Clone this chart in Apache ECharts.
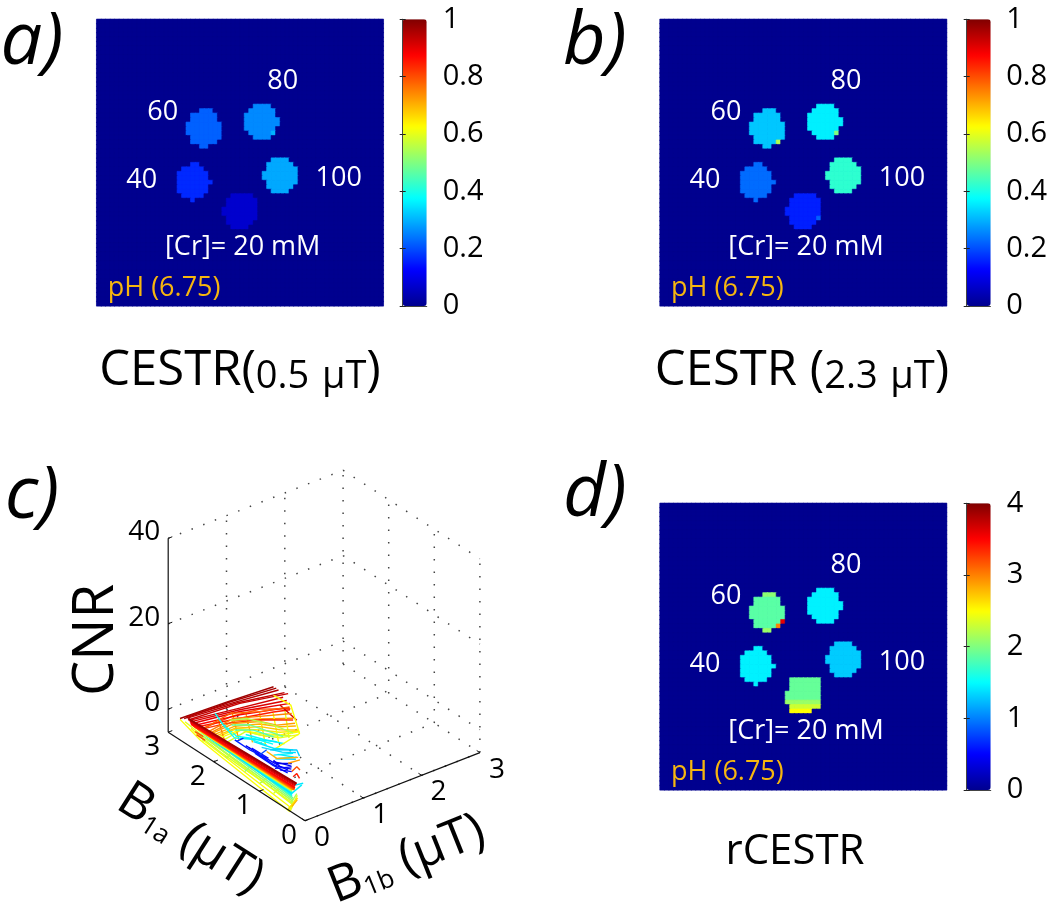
<!DOCTYPE html>
<html>
<head>
<meta charset="utf-8">
<title>CESTR maps</title>
<script src="https://cdn.jsdelivr.net/npm/echarts@6/dist/echarts.min.js"></script>
<style>
  html, body { margin: 0; padding: 0; background: #fff; }
  #main { width: 1050px; height: 903px; }
</style>
</head>
<body>
<div id="main"></div>
<script>
// jet colormap, one stop every 1/8
var jetColors = ['#00008f', '#0000ff', '#0080ff', '#00ffff', '#80ff80', '#ffff00', '#ff8000', '#ff0000', '#800000'];

// vials as pixel runs [row, firstCol, lastCol] on the 64x64 image
var vial40Rows = [[32,21,22],[33,19,23],[34,18,24],[35,18,24],[36,18,25],[37,18,24],[38,18,24],[39,19,23],[40,21,21]];
var vial60Rows = [[20,23,25],[21,21,26],[22,21,26],[23,20,27],[24,20,27],[25,20,27],[26,21,27],[27,21,26],[28,23,24]];
var vial80Rows = [[19,35,38],[20,34,39],[21,33,39],[22,33,40],[23,33,40],[24,33,39],[25,34,39],[26,35,38]];
var vial100Rows = [[31,39,42],[32,38,43],[33,38,44],[34,37,44],[35,37,44],[36,38,44],[37,38,43],[38,39,42]];
var vial0Rows = [[39,30,34],[40,29,35],[41,29,35],[42,28,35],[43,28,35],[44,29,35],[45,29,34],[46,30,33]];
var vial0RowsD = [[39,29,35],[40,29,35],[41,29,35],[42,28,35],[43,28,35],[44,28,35],[45,29,35],[46,29,33]];

// vial levels, order 40, 60, 80, 100, bottom
var cestrLow = [0.165, 0.22, 0.26, 0.29, 0.07];
var cestrHigh = [0.23, 0.32, 0.36, 0.42, 0.155];
var rcestr = [1.45, 1.85, 1.45, 1.3, 1.9];
// odd single pixels [row, col, value]
var cestrLowOdd = [[25, 39, 0.3]];
var cestrHighOdd = [[27, 26, 0.55], [25, 39, 0.5], [44, 35, 0.22]];
var rcestrOdd = [[26, 27, 3.6], [27, 26, 3.0], [28, 23, 2.1], [28, 24, 2.1], [20, 23, 2.05], [20, 24, 2.05], [20, 25, 2.05]];
// the bottom vial in d) turns yellow towards its last rows
var rcestrBottomRows = [[44, 2.1], [45, 2.3], [46, 2.5]];

var concentrationLabels = ['40', '60', '80', '100'];
var cnrTicks = [0, 20, 40];
var b1Ticks = [0, 1, 2, 3];

// 3D plot c), every curve sits at B1b = 0 as pairs [B1a, CNR]
var meshB1b = 0;
var meshLevels = [
  .96, .94, .91,
  .8, .74, .7, .65, .6, .58,
  .75, .72, .7, .65, .62, .6,
  .37, .34, .38, .33, .36,
  .12, .1, .15, .11,
  .62, .6, .64, .62, .58, .55, .5,
  .97, .95, .93, .92, .9, .88, .85, .82, .92, .78, .75, .72, .68, .62, .62,
  .55, .48, .45, .38, .36, .35, .33, .36, .34,
  .15, .13, .14, .17, .12, .10, .13, .12, .2,
  .7, .72, .8, .85, .35,
  .6, .55, .48, .42, .38, .36, .35,
  .58, .56, .52, .55, .58, .8, .8,
  .6, .65, .7, .55, .36,
  .38, .35, .45, .5, .55, .62, .66, .72, .75, .78, .8, .83, .85, .87, .9, .92, .94, .96, .97
];
var meshCurves = [
  [[2.65,.2],[1.65,11],[.63,21.3]],
  [[2.58,.8],[1.5,11.8],[.45,21.5]],
  [[2.47,.8],[1.43,10.7],[.4,20]],
  [[2.3,.1],[1.6,8],[.99,13.9],[.32,18.6]],
  [[2.15,-.1],[1.57,7.1],[.99,11.6],[.26,16.8]],
  [[2.1,-.2],[1.55,6],[.99,10.4],[.55,12.8],[.2,15.4]],
  [[2.02,-.3],[1.5,5.8],[.99,9],[.55,11.5],[.13,14.7]],
  [[1.85,.3],[1.4,6.2],[.99,7.8],[.55,10.2],[.14,13.8]],
  [[1.75,.6],[1.3,6.5],[.85,8.5],[.3,12.5]],
  [[1.9,5],[1.75,.8]],
  [[1.6,9],[1.45,3.5]],
  [[1.3,11],[1.15,5]],
  [[1,13],[.87,6.5]],
  [[.7,15],[.58,9]],
  [[.45,18],[.35,11.5]],
  [[1.3,5.8],[.9,7.4],[.45,9.5]],
  [[.95,5.2],[.5,7.2],[.2,9.2]],
  [[1.85,5],[1.5,4],[1.1,6.2],[.7,7.7]],
  [[.65,4.6],[.2,7.6]],
  [[.6,6],[.25,7.8]],
  [[1.3,3.2],[.95,3.3],[.6,3.5]],
  [[.65,3],[.3,4.6]],
  [[1.1,2.8],[.7,2.7],[.38,3.2]],
  [[.7,3.6],[.5,4.5],[.3,5.3]],
  [[2.74,-.6],[2.3,-2.4],[.33,-5.6]],
  [[.34,-5.3],[.2,-2]],
  [[.36,-5],[.16,-1.2]],
  [[2.5,-1],[2.2,-2],[.3,-4.5]],
  [[2.33,-1.5],[1.8,-2.2],[.26,-3.1]],
  [[2.38,-1],[1.72,-1.5],[.26,-2.7]],
  [[2.2,-1],[1.68,-.9],[.26,-2.3]],
  [[2.74,-.4],[1.72,10.5],[.69,21.2]],
  [[2.6,1],[1.57,11.4],[.58,21.2]],
  [[2.56,.5],[1.43,12.2],[.37,21.8]],
  [[2.49,1],[1.43,11.1],[.48,20.2]],
  [[2.45,.5],[1.43,10.3],[.33,19.8]],
  [[2.41,.3],[1.43,9.5],[.34,18.8]],
  [[2.38,.1],[1.43,8.7],[.69,15.3],[.33,18.3]],
  [[2.34,-.3],[1.72,5.5],[.99,11.4],[.26,16.4]],
  [[.55,17.9],[.18,16.9]],
  [[2.27,.2],[1.64,8.4],[.99,13.3],[.34,18.9]],
  [[2.19,-.1],[1.57,7.7],[.99,12.2],[.29,17.7]],
  [[2.12,0],[1.57,6.5],[.99,11],[.62,12.7],[.22,15.9]],
  [[2.08,-.5],[1.54,5.6],[.99,9.8],[.55,12.1],[.15,14.8]],
  [[1.97,-.1],[1.43,6],[.99,8.2],[.55,10.9],[.12,14.6]],
  [[.69,19.2],[.31,19.5],[.12,14.2],[.69,6.4]],
  [[1.64,6.8],[1.28,9.7],[.69,12.2],[.26,13.3]],
  [[1.61,5.9],[1.21,8.7],[.77,10.1],[.48,11]],
  [[1.54,5.2],[1.13,8],[.69,9.5]],
  [[1.97,6.1],[1.79,4.6],[1.54,3.3],[1.24,5.3],[.84,6.5]],
  [[1.43,4],[.99,6.7],[.62,8.8]],
  [[1.13,5.3],[.69,6.8],[.26,9.4]],
  [[.77,5.9],[.18,9.9],[.12,8.9]],
  [[.69,5.2],[.26,8.6]],
  [[.58,5.2],[.18,8.2]],
  [[1.54,2.9],[1.21,2.8],[.84,3.4]],
  [[1.17,3.5],[.8,3.7]],
  [[1.06,3],[.62,3]],
  [[1.5,2.8],[1.35,4.6]],
  [[.69,4],[.55,3.5],[.37,3.9]],
  [[.62,3.7],[.29,6]],
  [[.66,2.3],[.29,5.2]],
  [[.55,2.7],[.29,4.1]],
  [[.99,3.2],[.84,5.4]],
  [[.84,5],[.62,4.9],[.15,8.4]],
  [[.37,5.5],[.11,8.1]],
  [[.29,4.1],[.18,6],[.11,5.7]],
  [[.26,3.1],[.18,4.4],[.12,3.7]],
  [[.22,1.4],[.04,3.1]],
  [[2.63,-.4],[2.27,-1],[.26,-3.5]],
  [[2.38,-1],[1.72,-1.5],[.26,-2.7]],
  [[2.27,-.6],[1.64,-.2],[.26,-1.9]],
  [[2.1,-.6],[1.5,-.4],[.28,-1.6]],
  [[2.16,-.2],[1.57,.3],[.29,-1.4]],
  [[2.05,-.2],[1.4,.1],[.28,-1.15]],
  [[2.08,-.1],[1.43,.5],[.29,-.9]],
  [[2.23,-2.3],[2.27,-1]],
  [[1.72,-2.7],[1.61,-.3]],
  [[1.32,-3],[1.17,-.5]],
  [[.99,-3.5],[.84,-1.3]],
  [[.69,-3.8],[.58,-1.9]],
  [[2.41,-1.2],[2.23,-1.1]],
  [[2.38,-1.7],[2.19,-1.7]],
  [[.33,-5.6],[.17,-.6]],
  [[.37,-5.4],[.18,-1.4]],
  [[.29,-4.1],[.17,-1.7]],
  [[.31,-3.5],[.18,-.3]],
  [[.29,-1],[.07,2.5]],
  [[2.23,-.2],[.77,-.7],[.29,-.8]],
  [[2.19,-.5],[.77,-1.1],[.29,-1]],
  [[2.25,-.3],[.28,-.6]],
  [[2.3,-.2],[.29,-.4]],
  [[2.33,-.4],[.29,-.3]],
  [[2.36,-.3],[.3,-.25]],
  [[2.38,-.2],[.29,-.2]],
  [[2.41,-.2],[.26,0]],
  [[2.43,-.15],[.24,.15]],
  [[2.45,-.1],[.23,.3]],
  [[2.47,-.1],[.23,.45]],
  [[2.49,-.1],[.23,.6]],
  [[2.5,0],[.22,.75]],
  [[2.51,.1],[.22,.9]],
  [[2.52,.4],[.22,1.2]],
  [[2.53,.55],[.21,1.45]],
  [[2.54,.7],[.2,1.7]],
  [[2.55,.8],[.19,1.9]],
  [[2.56,.9],[.18,2.1]]
];

var fontName = '"Open Sans", sans-serif';
var panels = [
  { left: 96.7, top: 19.3, barLeft: 402.7, max: 1, step: 0.2, levels: cestrLow, odd: cestrLowOdd },
  { left: 660, top: 19.3, barLeft: 966.7, max: 1, step: 0.2, levels: cestrHigh, odd: cestrHighOdd },
  { left: 660, top: 503.3, barLeft: 966.7, max: 4, step: 1, levels: rcestr, odd: rcestrOdd, lastVial: vial0RowsD, bottomRows: rcestrBottomRows }
];
var panelSize = 286.6;
var pixelAxis = [];
for (var p = 0; p < 64; p++) pixelAxis.push(p);

function buildImage(panel) {
  var img = [];
  var r, c;
  for (r = 0; r < 64; r++) {
    img.push([]);
    for (c = 0; c < 64; c++) img[r].push(0);
  }
  var vials = [vial40Rows, vial60Rows, vial80Rows, vial100Rows, panel.lastVial || vial0Rows];
  vials.forEach(function (rows, i) {
    rows.forEach(function (run) {
      for (c = run[1]; c <= run[2]; c++) img[run[0]][c] = panel.levels[i];
    });
  });
  (panel.bottomRows || []).forEach(function (row) {
    var run = vials[4].filter(function (v) { return v[0] === row[0]; })[0];
    for (c = run[1]; c <= run[2]; c++) img[row[0]][c] = row[1];
  });
  panel.odd.forEach(function (d) { img[d[0]][d[1]] = d[2]; });
  var out = [];
  for (r = 0; r < 64; r++) {
    for (c = 0; c < 64; c++) {
      var v = img[r][c];
      // same colour on the cell edge, otherwise the cell seams show
      out.push({ value: [c, r, v], itemStyle: { borderWidth: 0.6, borderColor: echarts.color.lerp(v / panel.max, jetColors) } });
    }
  }
  return out;
}

// B1a, B1b, CNR to the coordinates of the hidden grid of plot c)
var cnrFloor = -5.4;
function project(a, b, z) {
  return [155 + 58.3 * b - 45.6 * a, 360.7 - 22.7 * b - 29.5 * a - (z - cnrFloor) * 4.27];
}
function seg3d(p0, p1) {
  return [project(p0[0], p0[1], p0[2]), project(p1[0], p1[1], p1[2])];
}

var grid = [], xAxis = [], yAxis = [], series = [], visualMap = [], graphic = [];

panels.forEach(function (panel, i) {
  grid.push({ left: panel.left, top: panel.top, width: panelSize, height: panelSize, show: true, backgroundColor: jetColors[0], borderWidth: 0 });
  xAxis.push({ type: 'category', gridIndex: grid.length - 1, data: pixelAxis, show: false });
  yAxis.push({ type: 'category', gridIndex: grid.length - 1, data: pixelAxis, show: false, inverse: true });
  series.push({
    type: 'heatmap', xAxisIndex: xAxis.length - 1, yAxisIndex: yAxis.length - 1,
    data: buildImage(panel), silent: true, progressive: 0, animation: false
  });
  visualMap.push({
    type: 'continuous', seriesIndex: i, dimension: 2, min: 0, max: panel.max,
    left: panel.barLeft, top: panel.top, itemWidth: 24, itemHeight: panelSize, padding: 0,
    calculable: false, showLabel: false, hoverLink: false, inRange: { color: jetColors }
  });
});

// colorbar ticks and labels
panels.forEach(function (panel) {
  grid.push({ left: panel.barLeft, top: panel.top, width: 24, height: panelSize, z: 10 });
  var g = grid.length - 1;
  var line = { show: true, lineStyle: { color: '#444', width: 1 } };
  xAxis.push({ type: 'value', gridIndex: g, min: 0, max: 1, position: 'bottom', z: 10, axisLine: line, axisTick: { show: false }, axisLabel: { show: false }, splitLine: { show: false } });
  xAxis.push({ type: 'value', gridIndex: g, min: 0, max: 1, position: 'top', z: 10, axisLine: line, axisTick: { show: false }, axisLabel: { show: false }, splitLine: { show: false } });
  yAxis.push({
    type: 'value', gridIndex: g, min: 0, max: panel.max, interval: panel.step, position: 'right', z: 10,
    axisLine: line, axisTick: { show: true, inside: true, length: 3, lineStyle: { color: '#222' } },
    axisLabel: { fontFamily: fontName, fontSize: 29, color: '#000', margin: 16 }, splitLine: { show: false }
  });
  yAxis.push({
    type: 'value', gridIndex: g, min: 0, max: panel.max, interval: panel.step, position: 'left', z: 10,
    axisLine: line, axisTick: { show: true, inside: true, length: 3, lineStyle: { color: '#222' } },
    axisLabel: { show: false }, splitLine: { show: false }
  });
});

// plot c)
grid.push({ left: 150, top: 460, width: 360, height: 400 });
var meshGrid = grid.length - 1;
xAxis.push({ type: 'value', gridIndex: meshGrid, min: 0, max: 360, show: false });
yAxis.push({ type: 'value', gridIndex: meshGrid, min: 0, max: 400, show: false, inverse: true });
var meshX = xAxis.length - 1, meshY = yAxis.length - 1;

function addLine(points, color, width, dash, z) {
  series.push({
    type: 'line', xAxisIndex: meshX, yAxisIndex: meshY, data: points, symbol: 'none', silent: true,
    animation: false, clip: false, z: z,
    lineStyle: { color: color, width: width, type: dash || 'solid' }
  });
}

var dotted = [1.5, 11];
cnrTicks.forEach(function (z) {
  addLine(seg3d([3, 0, z], [3, 3, z]), '#444', 1.5, dotted, 2);
  addLine(seg3d([3, 3, z], [0, 3, z]), '#444', 1.5, dotted, 2);
});
b1Ticks.slice(1).forEach(function (t) {
  addLine(seg3d([3, t, cnrFloor], [3, t, 40]), '#444', 1.5, dotted, 2);
  addLine(seg3d([3, t, cnrFloor], [0, t, cnrFloor]), '#444', 1.5, dotted, 2);
});
b1Ticks.slice(0, 3).forEach(function (t) {
  addLine(seg3d([t, 3, cnrFloor], [t, 3, 40]), '#444', 1.5, dotted, 2);
  addLine(seg3d([t, 0, cnrFloor], [t, 3, cnrFloor]), '#444', 1.5, dotted, 2);
});

meshCurves.forEach(function (curve, i) {
  var pts = curve.map(function (d) { return project(d[0], meshB1b, d[1]); });
  addLine(pts, echarts.color.lerp(meshLevels[i], jetColors), 1.4, null, 3);
});

addLine(seg3d([3, 0, cnrFloor], [3, 0, 40]), '#111', 1.2, null, 4);
addLine(seg3d([3, 0, cnrFloor], [0, 0, cnrFloor]), '#111', 1.2, null, 4);
addLine(seg3d([0, 0, cnrFloor], [0, 3, cnrFloor]), '#111', 1.2, null, 4);
cnrTicks.forEach(function (z) { addLine(seg3d([3, 0, z], [3, 0.07, z]), '#111', 1, null, 4); });
b1Ticks.forEach(function (t) {
  addLine(seg3d([t, 0, cnrFloor], [t, 0.07, cnrFloor]), '#111', 1, null, 4);
  addLine(seg3d([0, t, cnrFloor], [0.07, t, cnrFloor]), '#111', 1, null, 4);
});

function tickLabels(points, texts, align, offset) {
  series.push({
    type: 'scatter', xAxisIndex: meshX, yAxisIndex: meshY, symbolSize: 0, silent: true, animation: false, clip: false, z: 5,
    itemStyle: { opacity: 1 },
    data: points.map(function (pt, i) { return { value: pt, label: { formatter: texts[i] } }; }),
    label: { show: true, position: 'inside', align: align, verticalAlign: 'middle', offset: offset, color: '#000', fontFamily: fontName, fontSize: 28 }
  });
}
tickLabels(cnrTicks.map(function (z) { return project(3, 0, z); }), cnrTicks.map(String), 'right', [-8, -6]);
tickLabels(b1Ticks.map(function (t) { return project(t, 0, cnrFloor); }), b1Ticks.map(String), 'center', [-16, 15]);
tickLabels(b1Ticks.map(function (t) { return project(0, t, cnrFloor); }), b1Ticks.map(String), 'center', [17, 17]);

// text on and under the panels
function addText(x, y, text, size, color, extra) {
  var style = { text: text, fill: color || '#000', fontFamily: fontName, fontSize: size, align: 'center', verticalAlign: 'middle' };
  var el = { type: 'text', x: x, y: y, z: 20, silent: true, style: style };
  for (var k in (extra || {})) {
    if (k === 'rotation') el.rotation = extra[k];
    else style[k] = extra[k];
  }
  graphic.push(el);
}

var labelPlaces = [[45, 161], [66, 93], [186, 62], [242, 159]];
panels.forEach(function (panel) {
  concentrationLabels.forEach(function (t, i) {
    addText(panel.left + labelPlaces[i][0], panel.top + labelPlaces[i][1], t, 27, '#fff');
  });
  addText(panel.left + 146, panel.top + 228, '[Cr]= 20 mM', 27, '#fff');
  addText(panel.left + 11, panel.top + 269, 'pH (6.75)', 27, '#f6b60f', { align: 'left' });
});

var panelItalic = { fontStyle: 'italic' };
addText(32, 43, 'a)', 74, '#000', panelItalic);
addText(595, 43, 'b)', 74, '#000', panelItalic);
addText(32, 497, 'c)', 74, '#000', panelItalic);
addText(595, 495, 'd)', 74, '#000', panelItalic);

var titleRich = {
  big: { fontFamily: fontName, fontSize: 49, fill: '#000', verticalAlign: 'bottom', lineHeight: 60 },
  small: { fontFamily: fontName, fontSize: 38, fill: '#000', verticalAlign: 'bottom', lineHeight: 58 }
};
addText(240, 366, '{big|CESTR}{big|(}{small|0.5\u2009\u2009μT}{big|)}', 49, '#000', { rich: titleRich });
addText(802, 366, '{big|CESTR (}{small|2.3\u2009\u2009μT}{big|)}', 49, '#000', { rich: titleRich });
addText(795, 852, 'rCESTR', 42, '#000');

addText(97, 640, 'CNR', 56, '#000', { rotation: Math.PI / 2 });
var axisRich = {
  b: { fontFamily: fontName, fontSize: 50, fill: '#000', verticalAlign: 'bottom', lineHeight: 60 },
  s: { fontFamily: fontName, fontSize: 26, fill: '#000', verticalAlign: 'bottom', lineHeight: 46 }
};
addText(193, 835, '{b|B}{s|1a}{b| (μT)}', 50, '#000', { rich: axisRich, rotation: -0.57 });
addText(405, 855, '{b|B}{s|1b}{b| (μT)}', 50, '#000', { rich: axisRich, rotation: 0.38 });

var chart = echarts.init(document.getElementById('main'));
chart.setOption({
  backgroundColor: '#fff',
  animation: false,
  grid: grid,
  xAxis: xAxis,
  yAxis: yAxis,
  visualMap: visualMap,
  series: series,
  graphic: graphic
});
</script>
</body>
</html>
